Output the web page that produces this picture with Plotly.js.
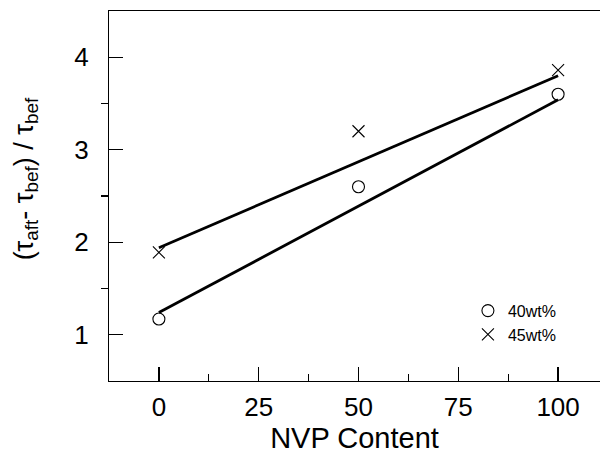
<!DOCTYPE html>
<html>
<head>
<meta charset="utf-8">
<script src="https://cdn.plot.ly/plotly-3.0.1.min.js"></script>
<style>html,body{margin:0;padding:0;background:#fff;}#chart{width:600px;height:457px;}</style>
</head>
<body>
<div id="chart"></div>
<script>
// Data
const nvp = [0, 50, 100];
const ratio40 = [1.17, 2.60, 3.60];
const ratio45 = [1.89, 3.20, 3.86];
const fitX = [0, 100];
const fit40 = [1.24, 3.54];
const fit45 = [1.94, 3.80];
const xTicks = [0, 25, 50, 75, 100];
const yTicks = [1, 2, 3, 4];
const seriesNames = ['40wt%', '45wt%'];
const xTitle = 'NVP Content';
const yTitle = '(τ<sub>aft</sub>- τ<sub>bef</sub>) / τ<sub>bef</sub>';

const FONT = 'Liberation Sans, Arial, sans-serif';

const traces = [
  {x: fitX, y: fit40, mode: 'lines', line: {color: '#000', width: 2.8}, showlegend: false, hoverinfo: 'skip'},
  {x: fitX, y: fit45, mode: 'lines', line: {color: '#000', width: 2.8}, showlegend: false, hoverinfo: 'skip'},
  {x: nvp, y: ratio40, mode: 'markers', name: seriesNames[0],
   marker: {symbol: 'circle-open', size: 12, color: '#000', line: {width: 1.1, color: '#000'}}},
  {x: nvp, y: ratio45, mode: 'markers', name: seriesNames[1],
   marker: {symbol: 'x-thin-open', size: 12, color: '#000', line: {width: 1.1, color: '#000'}}}
];

const layout = {
  width: 600, height: 457,
  margin: {l: 109, r: 0, t: 11, b: 76},
  paper_bgcolor: '#fff', plot_bgcolor: '#fff',
  showlegend: true,
  legend: {x: 0.731, y: 0.236, xanchor: 'left', yanchor: 'top', bgcolor: 'rgba(0,0,0,0)',
           font: {family: FONT, size: 16, color: '#000'}, tracegroupgap: 0, itemwidth: 30},
  xaxis: {
    range: [-12.5, 110.5], tickvals: xTicks, ticktext: xTicks.map(String),
    ticks: 'inside', ticklen: 14, tickwidth: 1.2, tickcolor: '#000',
    minor: {tickvals: [12.5, 37.5, 62.5, 87.5], ticks: 'inside', ticklen: 7, tickwidth: 1.2, tickcolor: '#000'},
    showline: true, linecolor: '#000', linewidth: 1.2, mirror: true,
    showgrid: false, zeroline: false,
    tickfont: {family: FONT, size: 26, color: '#000'}, ticklabelstandoff: 3,
    title: {text: xTitle, font: {family: FONT, size: 29, color: '#000'}, standoff: 1}
  },
  yaxis: {
    range: [0.5, 4.5], tickvals: yTicks, ticktext: yTicks.map(String),
    ticks: 'inside', ticklen: 14, tickwidth: 1.2, tickcolor: '#000',
    minor: {tickvals: [0.5, 1.5, 2.5, 3.5], ticks: 'outside', ticklen: 7, tickwidth: 1.2, tickcolor: '#000'},
    showline: true, linecolor: '#000', linewidth: 1.2, mirror: false,
    showgrid: false, zeroline: false,
    tickfont: {family: FONT, size: 26, color: '#000'}, ticklabelstandoff: 14
  },
  annotations: [{
    text: yTitle, xref: 'paper', yref: 'paper', x: -0.169, y: 0.545,
    xanchor: 'center', yanchor: 'middle', textangle: -90, showarrow: false,
    font: {family: FONT, size: 27, color: '#000'}
  }]
};

Plotly.newPlot('chart', traces, layout, {displayModeBar: false, staticPlot: true});
</script>
</body>
</html>
